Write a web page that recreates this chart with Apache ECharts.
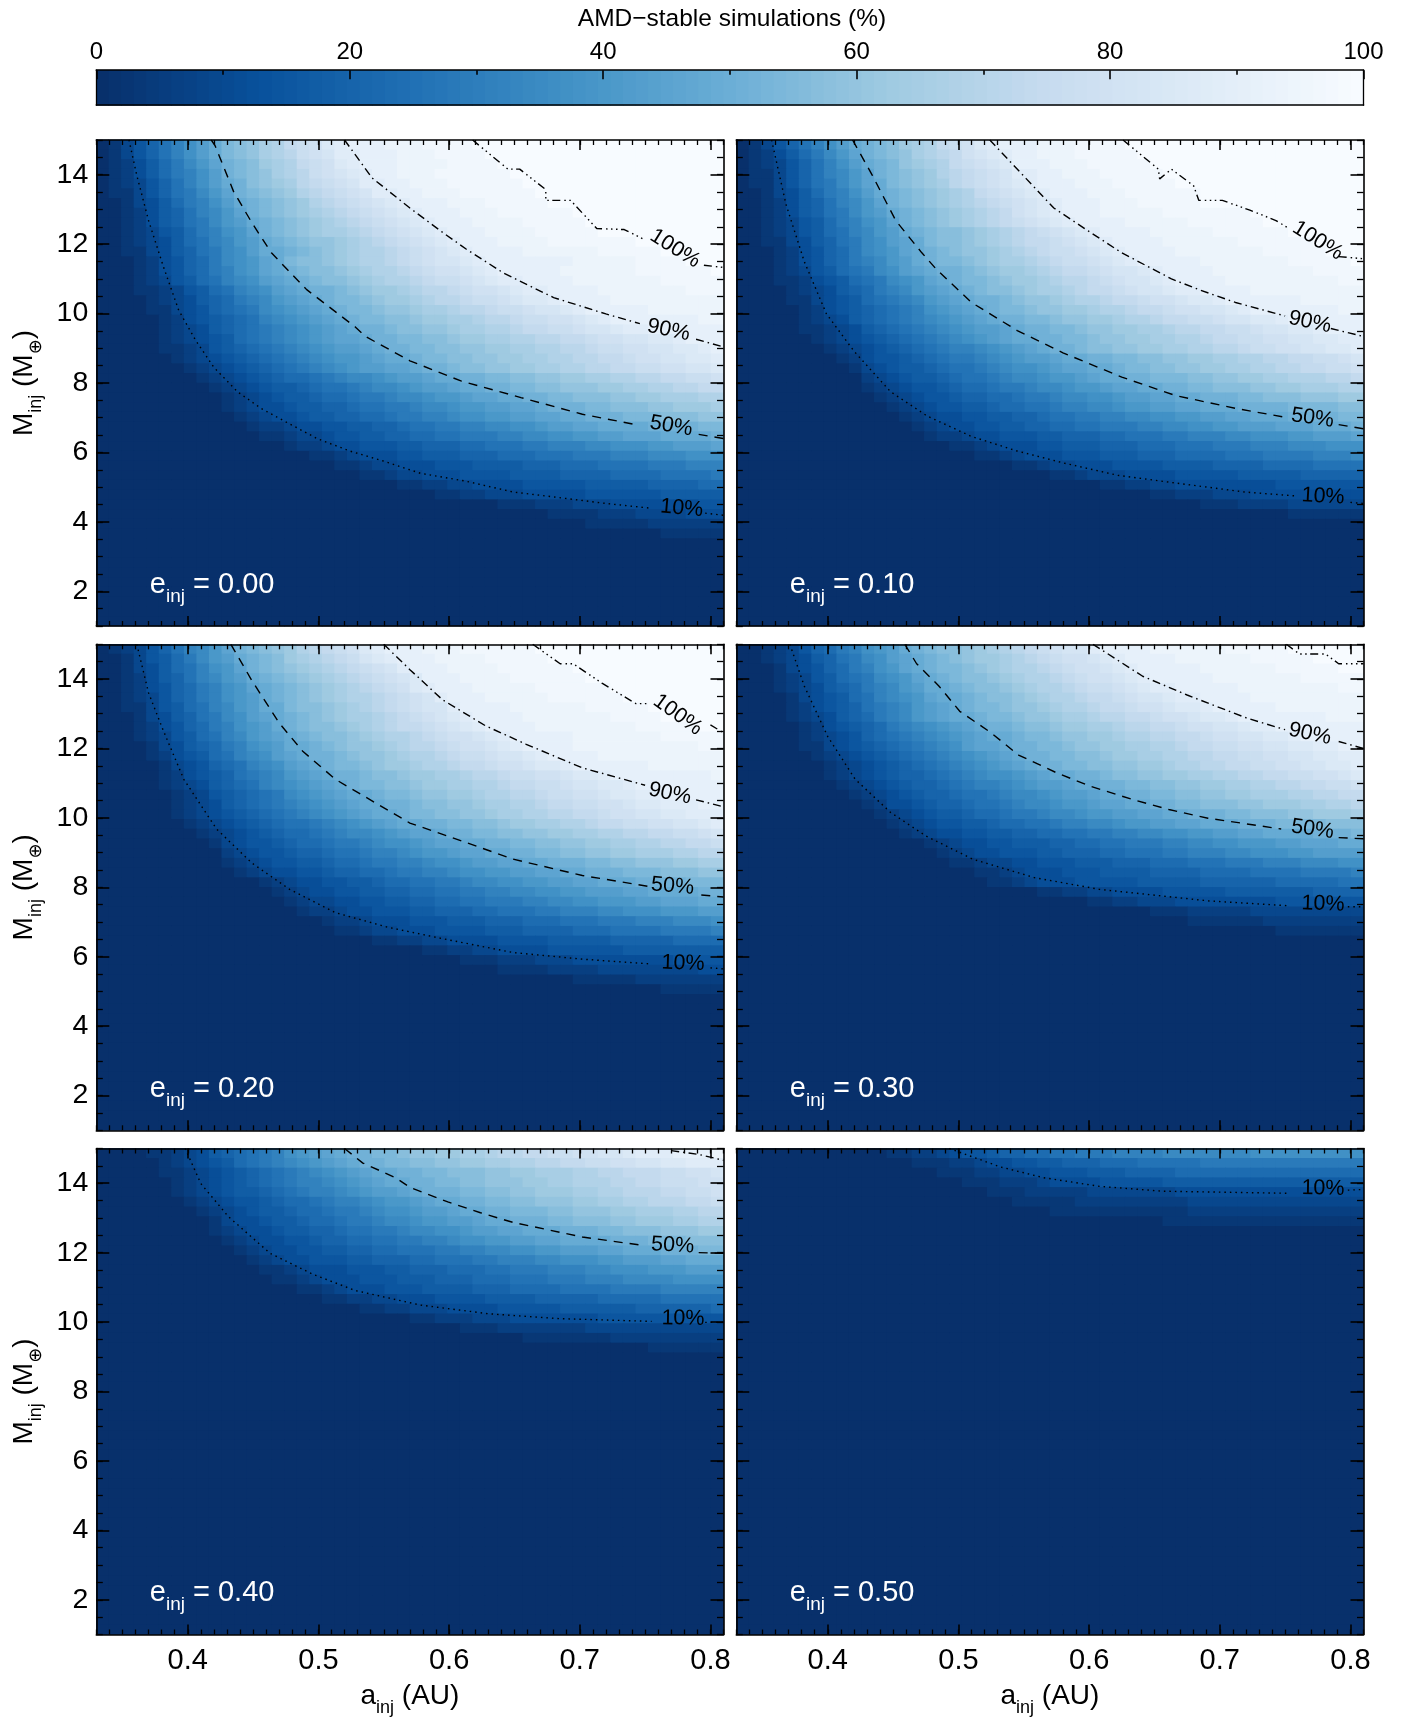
<!DOCTYPE html>
<html><head><meta charset="utf-8">
<script src="https://cdn.jsdelivr.net/npm/echarts@6/dist/echarts.min.js"></script>
<style>html,body{margin:0;padding:0;background:#fff}#c{width:1411px;height:1717px}</style>
</head><body><div id="c"></div>
<script>
// AMD-stable share per cell. One string per row, top row (M=15) first, 50 columns (a=0.33..0.81).
// Each character is a base-36 level, 0 = 0 %, z = 100 %. Leading zeros and the all-zero bottom rows are left out.
const e00=[
"013579bdfh jklnoqrsuv wwwxxxyyyy zzzzzzzzzz zzzzzzzzzz","013579bdfh jklnoprstv vwwwxxxyyy yzzzzzzzzz zzzzzzzzzz",
"012468aceg ijkmnoqrsu vwwwxxxxyy yyzzzzzzzz zzzzzzzzzz","012468abdf ijklnoprst uvwwxxxyyy yyyzzzzzzz zzzzzzzzzz",
"0123579bdf hiklmnpqrs tvvwwxxxyy yyyyzzzzzz zzzzzzzzzz","0113579ace gijklmopqr stvvwwxxxy yyyyyzzzzz zzzzzzzzzz",
"0013468abd fhijklmopq rstuvwwwxx xyyyyyzzzz zzzzzzzzzz","00124679bc egijklmnop qrstuvwwwx xxyyyyyyzz zzzzzzzzzz",
"00124679ac efhijklmno pqrstuvwww xxxxyyyyyz zzzzzzzzzz","00123568ab degijklmnn opqrstuvww wxxxxyyyyy zzzzzzzzzz",
"001234689b cefhijkllm nopqrstuvw wwxxxxyyyy yyyzzzzzzz","001134679a cdfhhijklm noopqrstuv wwwwxxxxxx yyyyyzzzzz",
"000124578a cdeghjkklm noopqrsttu vwwwwwwwxx xxxyyyyzzz","000124578a bdeghijkkl mnoopqrsst uvwwwwwxxx xxxyyyyyyz",
"0001235689 bcdfghijkk lmnoopqrrs tuvvwwwwxx xxxxxyyyyy","0001123568 9bcdfghiij klmmnoppqr sstuvvwwww xxxxxxxyyy",
"0000123467 8abcefghij jklmmnoppq rrstuuvwww wxxxxxxxxx","0000113457 89acdefghi jjkllmnnop pqrrsttuvw wwwwxxxxxx",
"0000012456 789bcdefgh ijjkklmmnn oppqrrsstu vwwwwwwwxx","0000012346 789abcdefg hiijkkllmn noopqqrrst tuvvwwwwww",
"0000012345 689abcdefg ghiijjkklm mnnooppqqr ssttuuvwww","0000011235 6789abcdef fghiijjkkl lmmnnooppq rrssttuuvw",
"0000001234 56789abcde efghhijjkk llmmnnoopp qqrssttuuv","0000000123 456789abcd effgghiijk kllmmnnoop pqqrrssttu",
"12 3456788 9ab ccdeffghhi ijjkkllmmn nooppqqrrs","1 2345667899 abccdeffgh hiijjkklll mmnnooppqq",
"1234566788 9aabccdeef gghhiijjkk kllmmnnnoo","1234456677 899aabccde effgghiiij jkkkllmmmn",
"0123445667 7889aabbcd deeffgghhi iijjjkkkll","0012234455 6677899aab bccddeffgg hhhhiiiijj",
"0001123345 5667788 99a aabbccddee ffggghhhhi","0000012234 4555667778 8999aabbbc cdddeefffg",
"0000000112 3444556667 7788899 9aa abbbcccddd","1 1233444555 6666777888 9999aaabbb",
"0112334445 5556666777 7888899 99a","0000112233 4444555556 6666777788",
"112 2333444445 5555566666","0011122233 3444444455","0000001111 2223333444","1 1111222222","0000011111"];
const e10=[
"013579bdfh ijkmnoqrsu vwwwxxxyyy yzzzzzzzzz zzzzzzzzzz","012468aceg ijklnopqst uvwwxxxyyy yyzzzzzzzz zzzzzzzzzz",
"0123579bdf hijlmnoqrs tuwwwxxxyy yyyzzzzzzz zzzzzzzzzz","0113579bce gijklmopqr stvvwwxxxy yyyyzzzzzz zzzzzzzzzz",
"0113579ace ghjklmnpqr stuvwwwxxx yyyyyzzzzz zzzzzzzzzz","0013468abd fhijklmnoq rstuvwwwxx xyyyyyyzzz zzzzzzzzzz",
"00124679bc egijklmnop qrstuvwwwx xxyyyyyzzz zzzzzzzzzz","00124679ac efhijklmno pqstuvwwwx xxxxyyyyyy yzzzzzzzzz",
"00123568ab degijklmno pqrstuvwww wxxxxxyyyy yyzzzzzzzz","001235689b cefhijkklm nopqrstuvw wwwxxxxxyy yyyyzzzzzz",
"001134679a cdfghjkklm nopqqrstuv wwwwxxxxxx yyyyyyzzzz","000124578a cdeghijkll mnopqrrstu vwwwwxxxxx xxyyyyyzzz",
"000124578a bcefhijjkl mnnopqrrst uvwwwwwxxx xxxxyyyyyz","0001235689 acdfghiijk lmmnopqqrs ttuvwwwwxx xxxxxxyyyy",
"0001124568 9acdeghijj klmmnoppqr sttuvwwwwx xxxxxxxxyy","0000123467 8abcefghij kklmnnopqq rsttuvvwww wxxxxxxxxx",
"0000113456 89abcefghi ijkllmnoop qqrsstuuvw wwwwwxxxxx","0000012456 789abdefgh ijjkllmmno opqqrssttu vwwwwwwwxx",
"0000012346 789abcdefg hiijjkllmm noopqqrrst tuuvwwwwww","0000011234 6789abcdef fghiijjkll mmnnoppqqr rsttuuvwww",
"0000001234 56789abcde fghhiijjkl lmmnnoopqq rrssttuuvv","0000000123 456789abbc defghiijkk llmmnnoopp qrrssttuuv",
"12 4556789aab cdeffghhii jjkkllmmnn ooppqqrrst","1 345667899a bcddefgghh ijjkkllmmn nooppqqrrs",
"2345667899 abccdeefgh hiijjjkkll mmnnoooppq","1234556788 9aabccdeef gghhiijjkk kllmmnnnoo",
"123455677 889aabccdd effgghhiii jjkkklllmm","12345566 78899abbcc deeffgghhh iiiijjjjkk",
"1234455 6677899aab bccddeeffg ghhhiiiijj","123445 5667788 99a aabbccddee fffggghhhi",
"12234 4555667778 8999aabbbc cdddeefffg","112 3444556667 7788899 9aa abbbcccddd",
"1 1234445556 6677788889 99aaaabbbc","11233444 5555666677 7788889999",
"11233 3444455555 6666677777","1 1223344444 4445555555",
"1122233 3444444444","111 2222333333","111111"];
const e20=[
"0123579bce gijklmopqr suvwwwxxxy yyyyyzzzzz zzzzzzzzzz","0013568ace fhijkmnopq rtuvwwwxxx xyyyyyzzzz zzzzzzzzzz",
"0013468 9bd egijklmnop qrstvwwwxx xxyyyyyyzz zzzzzzzzzz","00124679bc efhijklmno pqrstuwwwx xxxyyyyyyz zzzzzzzzzz",
"0012457 8ab deghijklmn opqrsuvwww xxxxxyyyyy yzzzzzzzzz","0012357 8ab defhijklmn oopqrstvww wxxxxxyyyy yyzzzzzzzz",
"0011356 89b cefhhjkklm nopqrsttvw wwwxxxxxxy yyyyzzzzzz","000134679a cdfghijklm nnopqrstuv wwwwxxxxxx xyyyyzzzzz",
"000124578a bdefhijkkl mnopqqrstu vwwwwxxxxx xxxyyyyyzz","0001235689 bcefghijkk lmnoopqrss tuvwwwwwxx xxxxxyyyyy",
"0000134678 abdefhhijk llmnoppqrs stuvwwwwxx xxxxxxxxyy","0000124568 9bcdfghiij kllmnoopqr rsttuvwwww xxxxxxxxxx",
"0000013457 89bcdfghij jklmmnoopq qrsstuuvww wwwwxxxxxx","0000012456 79abcefghi ijkklmmnno ppqrrsstuu vwwwwwwwwx",
"0000012346 789bcdefgh ijjkklmmnn oopqqrrstt uuvwwwwwww","0000001235 6789acdefg hhijjkllmm nooppqrrss tuuvvwwwww",
"0000001234 6789abcdef ghhiijkkll mnnoopqqrr sstuuvvvww","0000001234 56789abcde fghhijjkkl lmnnooppqq rssttuuvvv",
"0000000123 456789 9abc defghhiijj kklmmnnoop qqrrssttuv","12 3456788 9ab ccdefgghii jjkkllmmnn ooppqqrrst",
"1 3455678 89a abcddefggh hiijjkkllm mnnooppqqr","2345567789 9abbcdeefg ghhiijjkkl lmmnnnoopp",
"1234556678 89aabbcdde ffgghhiiij jkklllmmnn","123445567 7889aabbcd deeffgghhi iijjjkkkll",
"1234455 6678899aab ccddeeffgg hhhiiiijjj","123445 5667788 99a abbccddeef ffgghhhhii",
"12334 4556677889 9aaabbccdd eeeffggghh","1223 4455566777 88999aabbb ccdddeeeff",
"12 2344455566 6777888999 aaabbbcccd","1 1233444555 5666777788 89999aaaab",
"11223344 4455556666 6777778888","1122 3344445555 5566666666",
"1 1122233344 4444445555","11112222 3333333344","11 1112222222","11111"];
const e30=[
"0012357 8ab defhijkklm nopqrsttvw wwwxxxxxxy yyyyzzzzzz","001234679a cdfghijklm mnopqrsstu vwwwwxxxxx xyyyyyzzzz",
"000134578a bdeghijjkl mnoopqrsst uvwwwwwxxx xxxyyyyyzz","0001235689 acdeghijkk lmnoopqrss tuvwwwwwxx xxxxxyyyyy",
"0001234678 abcefhhijk klmnoopqrr stuvvwwwww xxxxxxxxyy","0000134568 9bcdeghhij kklmnoopqq rsttuvvwww wxxxxxxxxx",
"0000124567 9abcefghij jkllmnoopq qrsstuuvww wwwxxxxxxx","0000123467 8abcefghhi jjkllmnnop pqqrsstuuv wwwwwwwxxx",
"0000012456 78abcdefgh iijkklmmnn oppqqrsstt uvvwwwwwww","0000012345 789abcdefg hhijjkllmm nooppqqrss ttuuvwwwww",
"0000011345 6789abcdfg ghiijjkllm mnnoopqqrr ssttuuvvww","0000001234 56789abcde fghiijjkkl mmnnooppqq rrssttuuvv",
"0000000123 456789abcd efghiijjkk llmmnooppq qrrssttuuv","0000000123 4567789abc ddefghhiij kkllmmnnoo ppqqrrsstu",
"12 3456778 9ab bcdeffghhi ijjkkllmmn nooppqqrrs","1 2345677899 abccdeffgh hiijjkkllm mnnnooppqq",
"1244567789 9abccdeefg ghhiijjkkk llmmmnnoop","123456678 89aabccdee ffgghhiiij jkkkllmmmn",
"12345566 78899abbcc deeffgghhh iiijjjjkkk","1234455 667788 99aa bbccddeeff gghhhhiiij",
"12344 5566677889 9aaabbccdd eeeffggghh","1234 4555667778 8999aabbbc cdddeeffff",
"112 3344555666 777888999a aabbbcccdd","1 1234445556 6667777888 89999aaaab",
"1123444555 5566666777 7778888899","112233 4444555556 6666667777",
"11 2233344444 4445555555","1112222 2333333333","1111 1122222222","1111111"];
const e40=[
"112346 789abdefgh iijjkllmmn noppqqrrss ttuvvvwwwx","12345 689abcdefg hiijjkkllm mnnooppqqr rssttuuvvv",
"11234 56789abcde fghhiijjkk kllmmnnnoo ppqqqrrsst","1234 56789abbcd efghhiijjk klllmmnnoo oppqqrrrss",
"1234 5667 89abbc deffghiiij jkkllmmmnn oopppqqrrs","123 4556 7889ab bcdeefghhi ijjkklllmm nnoopppqqr",
"12 3456678 89a abcddeffgh hiijjjkkll lmmnnnoopp","1 3445667889 aabccdeeff ghhiiijjkk kllmmmnnoo",
"1 2344566778 99aabccdde ffgghhhiii jjkkklllmm","1234455677 8899aabbcd deeffgghhh hiiijjjkkk",
"123445566 7788999aab bccddeefff gghhhiiijj","12344555 6677788999 aabbbccddd eefffgghhh",
"1123444 5556677788 899aaabbbc cdddeeefff","112344 4555666777 888999aaab bbccccdddd",
"1123 4445556666 7778888999 9aaaabbbbb","11 2233444555 5666677777 8888899999",
"112233344 4455555666 6667777778","11222 3334444444 5555555555",
"1 1122222223 3333333333","111111 1222222222","111111"];
const e50=[
"11223455 6778899aaa bbbbcccccc cddddddddd","111223 4455667778 8899999aaa aaaaaaaaaa",
"1112 2334455566 6777788888 8888888888","11 1222344445 5555666666 6666666666",
"1112222233 3333344444 4444444444","11111222 2222223333 3333333333",
"11111 1111112222 2222222222","111111 1111111111"];
const panelRows=[e00,e10,e20,e30,e40,e50];
const panelNames=['0.00','0.10','0.20','0.30','0.40','0.50'];

const xTicks=[0.4,0.5,0.6,0.7,0.8];
const yTicks=[2,4,6,8,10,12,14];
const barTicks=[0,20,40,60,80,100];
const barLevels=[0,1,2,3,4,5,6,7,8,9,10,11,12,13,14,15,16,17,18,19,20,21,22,23,24,25,26,27,28,29,30,31,32,33,34,35,36,37,38,39,40,41,42,43,44,45,46,47,48,49,50,51,52,53,54,55,56,57,58,59,60,61,62,63,64,65,66,67,68,69,70,71,72,73,74,75,76,77,78,79,80,81,82,83,84,85,86,87,88,89,90,91,92,93,94,95,96,97,98,99,100];

// Contours: [a, M]; a null pair breaks the line where its label sits.
const N=[null,null];
const c00_10=[[.355,15],[.361,13.98],[.37,12.68],[.381,11.39],[.393,10.1],[.406,9.23],[.42,8.45],[.438,7.75],[.456,7.27],[.478,6.82],[.499,6.4],[.524,6.04],[.549,5.76],[.578,5.4],[.613,5.17],[.649,4.86],[.684,4.7],[.72,4.53],[.755,4.39],N,[.796,4.25],[.81,4.19]];
const c00_50=[[.418,15],[.421,14.83],[.435,13.52],[.449,12.62],[.464,11.75],[.491,10.69],[.528,9.62],[.536,9.34],[.57,8.64],[.609,8.06],[.655,7.58],[.702,7.1],[.743,6.8],N,[.791,6.52],[.81,6.4]];
const c00_90=[[.52,15],[.541,13.91],[.57,13.04],[.595,12.34],[.613,11.86],[.642,11.16],[.68,10.46],[.72,9.99],[.746,9.71],N,[.789,9.26],[.81,9.04]];
const c00_100=[[.618,15],[.645,14.16],[.654,14.16],[.674,13.57],[.674,13.26],[.693,13.26],[.713,12.45],[.734,12.42],[.749,12.14],N,[.795,11.39],[.81,11.33]];
const c10_10=[[.357,15],[.368,13.15],[.382,11.5],[.399,9.99],[.42,8.92],[.448,7.75],[.476,7.05],[.51,6.46],[.545,6.04],[.58,5.7],[.622,5.34],[.666,5.12],[.719,4.86],[.757,4.75],N,[.8,4.56],[.81,4.53]];
const c10_50=[[.419,15],[.434,13.99],[.452,12.68],[.472,11.75],[.483,11.28],[.51,10.32],[.545,9.51],[.58,8.87],[.625,8.17],[.666,7.64],[.712,7.27],[.749,7.02],N,[.791,6.8],[.81,6.68]];
const c10_90=[[.524,15],[.552,13.88],[.573,13.04],[.601,12.34],[.625,11.75],[.663,11],[.684,10.69],[.712,10.32],[.75,9.93],N,[.785,9.57],[.81,9.34]];
const c10_100=[[.626,15],[.653,14.16],[.654,13.88],[.663,14.16],[.68,13.68],[.684,13.26],[.702,13.26],[.723,12.98],[.743,12.68],[.753,12.45],N,[.791,11.64],[.81,11.58]];
const c20_10=[[.361,15],[.37,13.6],[.381,12.54],[.397,11.11],[.422,9.68],[.449,8.7],[.478,7.94],[.513,7.27],[.553,6.85],[.595,6.52],[.649,6.12],[.702,5.93],[.755,5.79],N,[.8,5.68],[.81,5.65]];
const c20_50=[[.433,15],[.449,13.96],[.47,12.73],[.488,11.92],[.513,11.11],[.541,10.49],[.57,9.85],[.613,9.29],[.649,8.81],[.702,8.34],[.752,8.03],N,[.793,7.78],[.81,7.72]];
const c20_90=[[.55,15],[.57,14.27],[.595,13.4],[.628,12.65],[.659,12.12],[.702,11.44],[.75,10.94],N,[.789,10.52],[.81,10.32]];
const c20_100=[[.664,15],[.685,14.44],[.695,14.44],[.717,13.88],[.743,13.29],[.752,13.29],N,[.8,12.68],[.81,12.45]];
const c30_10=[[.371,15],[.382,13.8],[.4,12.34],[.421,11.11],[.448,10.16],[.475,9.48],[.511,8.81],[.558,8.28],[.608,7.94],[.656,7.75],[.691,7.61],[.752,7.47],N,[.798,7.44],[.81,7.44]];
const c30_50=[[.459,15],[.468,14.44],[.485,13.8],[.501,13.07],[.525,12.45],[.546,11.81],[.575,11.3],[.601,10.91],[.634,10.52],[.661,10.24],[.691,9.99],[.747,9.68],N,[.791,9.43],[.81,9.4]];
const c30_90=[[.603,15],[.641,14.08],[.675,13.54],[.721,12.87],[.75,12.54],N,[.791,12.2],[.81,12]];
const c30_100=[[.751,15],[.761,14.72],[.781,14.72],[.791,14.44],[.81,14.44]];
const c40_10=[[.398,15],[.41,13.99],[.431,13.04],[.463,11.98],[.495,11.39],[.528,10.91],[.578,10.49],[.63,10.24],[.684,10.1],[.755,10.02],N,[.796,9.99],[.81,9.99]];
const c40_50=[[.52,15],[.534,14.58],[.559,14.16],[.57,13.88],[.599,13.46],[.624,13.15],[.649,12.87],[.702,12.45],[.75,12.2],N,[.791,12],[.81,11.98]];
const c40_90=[[.77,14.94],[.791,14.83],[.81,14.66]];
const c50_10=[[.493,15],[.532,14.47],[.565,14.16],[.608,13.91],[.656,13.77],[.752,13.71],N,[.798,13.8],[.81,13.82]];
const panelContours=[
 {10:c00_10,50:c00_50,90:c00_90,100:c00_100},
 {10:c10_10,50:c10_50,90:c10_90,100:c10_100},
 {10:c20_10,50:c20_50,90:c20_90,100:c20_100},
 {10:c30_10,50:c30_50,90:c30_90,100:c30_100},
 {10:c40_10,50:c40_50,90:c40_90},
 {10:c50_10}];
// Contour labels: [a, M, text, rotation]
const panelLabels=[
 [[.773,11.87,'100%',-32],[.768,9.52,'90%',-12],[.77,6.76,'50%',-10],[.778,4.39,'10%',-5]],
 [[.775,12.1,'100%',-32],[.769,9.75,'90%',-12],[.771,6.99,'50%',-8],[.779,4.73,'10%',-3]],
 [[.775,12.97,'100%',-36],[.769,10.7,'90%',-12],[.771,8.03,'50%',-5],[.779,5.81,'10%',-2]],
 [[.769,12.42,'90%',-12],[.771,9.67,'50%',-8],[.779,7.52,'10%',-2]],
 [[.771,12.21,'50%',-3],[.779,10.1,'10%',-1]],
 [[.779,13.85,'10%',-1]]];

const lineDash={10:[1.5,4],50:[9,7],90:[8,4,1.5,4],100:[8,4,1.5,3.5,1.5,3.5,1.5,3.5]};
const blues=['#08306b','#08519c','#2171b5','#4292c6','#6baed6','#9ecae1','#c6dbef','#deebf7','#f7fbff'];
const FONT='"Liberation Sans","DejaVu Sans",sans-serif';
const PLEFT=[96.3,736.3], PTOP=[140,644.3,1148.5], PW=627.2, PH=486;
const aCells=[...Array(50).keys()], mCells=[...Array(50).keys()];
const black={color:'#000',width:1.6}, blackThin={color:'#000',width:1.3};

function decode(rows){
  const out=[];
  for(let t=0;t<50;t++){
    const s=(rows[t]||'').replace(/ /g,'').padStart(50,'0');
    for(let c=0;c<50;c++) out.push([c,49-t,parseInt(s[c],36)/35*100]);
  }
  return out;
}
const rich=(sz,col)=>({m:{fontSize:sz,color:col,fontFamily:FONT,fontWeight:'normal',lineHeight:sz+14},
  s:{fontSize:Math.round(sz*.66),color:col,fontFamily:FONT,fontWeight:'normal',lineHeight:Math.round(sz*.66),verticalAlign:'bottom'}});

const grid=[],xAxis=[],yAxis=[],heat=[],other=[],titles=[];
titles.push({text:'AMD\u2212stable simulations (%)',left:727,top:2,textAlign:'center',textStyle:{fontSize:24.5,fontWeight:'normal',color:'#000',fontFamily:FONT}});

panelRows.forEach((rows,p)=>{
  const col=p%2,row=(p-col)/2;
  const g=grid.length;
  grid.push({left:PLEFT[col],top:PTOP[row],width:PW,height:PH,containLabel:false,outerBoundsMode:'none'});
  const bx=xAxis.length,by=yAxis.length;
  const xMajor=(pos,lab)=>({type:'value',gridIndex:g,position:pos,min:.33,max:.81,z:10,
    axisLine:{show:true,onZero:false,lineStyle:black},
    axisTick:{show:true,inside:true,length:10,customValues:xTicks,lineStyle:black},
    axisLabel:{show:lab,customValues:xTicks,margin:12,fontSize:29,color:'#000',fontFamily:FONT,formatter:v=>v.toFixed(1)},
    splitLine:{show:false},
    ...(lab?{name:'{m|a}{s|inj}{m| (AU)}',nameLocation:'middle',nameGap:41,nameTextStyle:{rich:rich(28,'#000')}}:{})});
  const xMinor=pos=>({type:'value',gridIndex:g,position:pos,min:.33,max:.81,interval:.01,z:10,
    axisLine:{show:false,onZero:false},axisTick:{show:true,inside:true,length:5,lineStyle:blackThin},
    axisLabel:{show:false},splitLine:{show:false}});
  const yMajor=(pos,lab)=>({type:'value',gridIndex:g,position:pos,min:1,max:15,z:10,
    axisLine:{show:true,onZero:false,lineStyle:black},
    axisTick:{show:true,inside:true,length:13,customValues:yTicks,lineStyle:black},
    axisLabel:{show:lab,customValues:yTicks,margin:8,fontSize:28.5,color:'#000',fontFamily:FONT},
    splitLine:{show:false},
    ...(lab?{name:'{m|M}{s|inj}{m| (M}{s|\u2295}{m|)}',nameLocation:'middle',nameGap:51,nameRotate:90,nameTextStyle:{rich:rich(28,'#000')}}:{})});
  const yMinor=pos=>({type:'value',gridIndex:g,position:pos,min:1,max:15,interval:.5,z:10,
    axisLine:{show:false,onZero:false},axisTick:{show:true,inside:true,length:6.5,lineStyle:blackThin},
    axisLabel:{show:false},splitLine:{show:false}});
  xAxis.push({type:'category',gridIndex:g,data:aCells,show:false},xMajor('bottom',row===2),xMajor('top',false),xMinor('bottom'),xMinor('top'));
  yAxis.push({type:'category',gridIndex:g,data:mCells,show:false},yMajor('left',col===0),yMajor('right',false),yMinor('left'),yMinor('right'));

  heat.push({type:'heatmap',xAxisIndex:bx,yAxisIndex:by,data:decode(rows),silent:true,z:2,progressive:0});
  const cs=panelContours[p];
  Object.keys(cs).forEach(k=>other.push({type:'line',xAxisIndex:bx+1,yAxisIndex:by+1,data:cs[k],symbol:'none',silent:true,z:3,
    connectNulls:false,animation:false,lineStyle:{color:'#000',width:1.4,type:lineDash[k]}}));
  other.push({type:'scatter',xAxisIndex:bx+1,yAxisIndex:by+1,silent:true,z:4,symbolSize:1,itemStyle:{color:'rgba(0,0,0,0)'},
    data:panelLabels[p].map(l=>({value:[l[0],l[1]],label:{show:true,position:'inside',formatter:l[2],rotate:l[3],fontSize:21.5,color:'#000',textBorderWidth:0,opacity:1,fontFamily:FONT,align:'center',verticalAlign:'middle'}}))});
  titles.push({text:'{m|e}{s|inj}{m| = '+panelNames[p]+'}',left:PLEFT[col]+48.5,top:PTOP[row]+PH-68,z:20,textStyle:{fontWeight:'normal',rich:rich(29,'#fff')}});
});

// Colour bar
{
  const g=grid.length;
  grid.push({left:96.3,top:70.2,width:1267.2,height:35,outerBoundsMode:'none'});
  const bx=xAxis.length,by=yAxis.length;
  xAxis.push({type:'category',gridIndex:g,data:barLevels,show:false},
   {type:'value',gridIndex:g,position:'top',min:0,max:100,interval:20,z:10,
    axisLine:{show:true,onZero:false,lineStyle:black},
    axisTick:{show:true,inside:true,length:9,lineStyle:black},
    minorTick:{show:true,splitNumber:2,length:4.5,lineStyle:black},
    axisLabel:{show:true,margin:6,fontSize:24,color:'#000',fontFamily:FONT,customValues:barTicks},splitLine:{show:false}},
   {type:'value',gridIndex:g,position:'bottom',min:0,max:100,z:10,axisLine:{show:true,onZero:false,lineStyle:black},axisTick:{show:false},axisLabel:{show:false},splitLine:{show:false}});
  yAxis.push({type:'category',gridIndex:g,data:['bar'],show:false},
   {type:'value',gridIndex:g,position:'left',min:0,max:1,z:10,axisLine:{show:true,onZero:false,lineStyle:blackThin},axisTick:{show:false},axisLabel:{show:false},splitLine:{show:false}},
   {type:'value',gridIndex:g,position:'right',min:0,max:1,z:10,axisLine:{show:true,onZero:false,lineStyle:blackThin},axisTick:{show:false},axisLabel:{show:false},splitLine:{show:false}});
  heat.push({type:'heatmap',xAxisIndex:bx,yAxisIndex:by,data:barLevels.map((v,i)=>[i,0,v]),silent:true,z:2,progressive:0});
}

// The cells are painted twice so that no white shows through the antialiased seams between them.
const heatLayers=heat.concat(heat.map(h=>Object.assign({},h)));
const chart=echarts.init(document.getElementById('c'),null,{renderer:'canvas'});
chart.setOption({animation:false,backgroundColor:'#fff',title:titles,grid,xAxis,yAxis,
  visualMap:[{type:'continuous',show:false,min:0,max:100,dimension:2,seriesIndex:heatLayers.map((_,i)=>i),inRange:{color:blues}}],
  series:heatLayers.concat(other)});
</script></body></html>
